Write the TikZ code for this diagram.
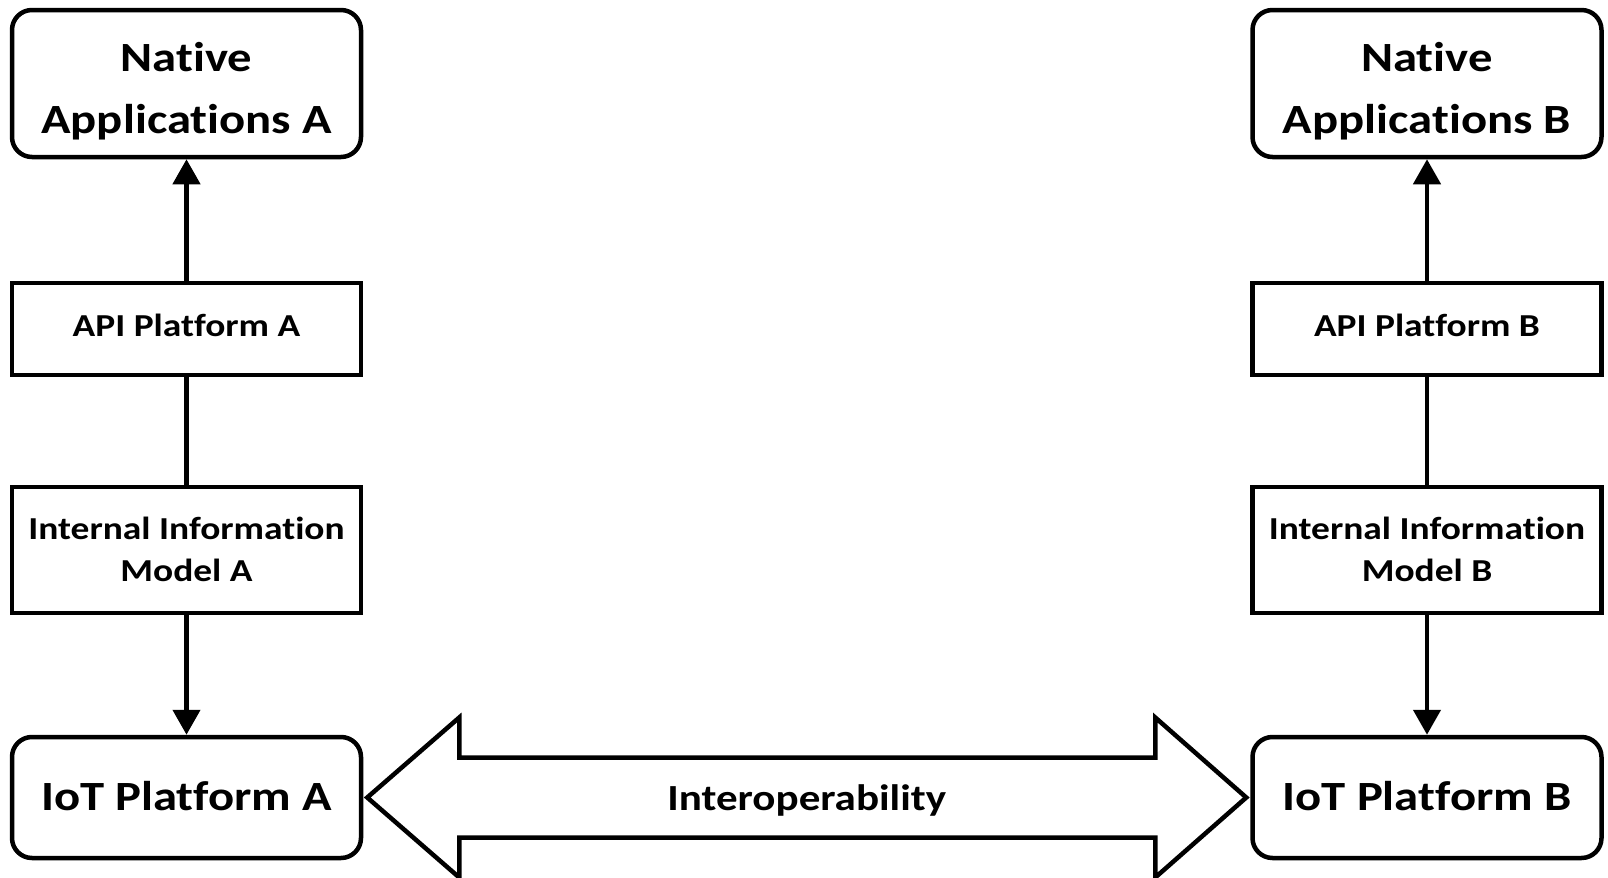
\documentclass[tikz,border=0pt]{standalone}
\usepackage{fontspec}
\setmainfont{Carlito}[FakeStretch=1.17,Ligatures=NoCommon]
\usetikzlibrary{arrows.meta,calc}

\begin{document}
\begin{tikzpicture}[x=0.5pt,y=-0.5pt,line width=2.25pt,
  box/.style={draw, inner sep=0pt, minimum width=174.5pt, align=center, text depth=0pt},
  roundbox/.style={box, rounded corners=10pt},
  toplabel/.style={font=\bfseries\fontsize{20.8}{30.85}\selectfont, text height=49.8pt},
  apilabel/.style={font=\bfseries\fontsize{16}{21.35}\selectfont, text height=7.7pt},
  modellabel/.style={font=\bfseries\fontsize{16}{21.35}\selectfont, text height=31.7pt},
  iotlabel/.style={font=\bfseries\fontsize{20.8}{26}\selectfont, text height=12.5pt},
  link/.style={-{Triangle[length=12.5pt,width=13.5pt]}},
  bigarrow/.style={draw, line join=miter}]

  \useasboundingbox (0,0) rectangle (1608,878);

  % platform A column
  \node[roundbox, toplabel, minimum height=73.5pt] (natA) at (186.5,83.5) {Native\\Applications A};
  \node[box, apilabel, minimum height=46pt] (apiA) at (186.5,329) {API Platform A};
  \node[box, modellabel, minimum height=63pt] (infA) at (186.5,550) {Internal Information\\Model A};
  \node[roundbox, iotlabel, minimum height=60.5pt] (iotA) at (186.5,797.5) {IoT Platform A};

  % platform B column
  \node[roundbox, toplabel, minimum height=73.5pt] (natB) at (1427,83.5) {Native\\Applications B};
  \node[box, apilabel, minimum height=46pt] (apiB) at (1427,329) {API Platform B};
  \node[box, modellabel, minimum height=63pt] (infB) at (1427,550) {Internal Information\\Model B};
  \node[roundbox, iotlabel, minimum height=60.5pt] (iotB) at (1427,797.5) {IoT Platform B};

  % vertical links
  \draw[link] (apiA) -- (natA);
  \draw (apiA) -- (infA);
  \draw[link] (infA) -- (iotA);
  \draw[link] (apiB) -- (natB);
  \draw (apiB) -- (infB);
  \draw[link] (infB) -- (iotB);

  % interoperability double arrow between the two platforms
  \coordinate (tl) at ($(iotA.east)+(4,0)$);
  \coordinate (tr) at ($(iotB.west)+(-4,0)$);
  \draw[bigarrow] (tl) -- ($(tl)+(92,-80)$) -- ($(tl)+(92,-40)$)
    -- ($(tr)+(-91,-40)$) -- ($(tr)+(-91,-80)$) -- (tr)
    -- ($(tr)+(-91,80)$) -- ($(tr)+(-91,40)$)
    -- ($(tl)+(92,40)$) -- ($(tl)+(92,80)$) -- cycle;
  \node[inner sep=0pt, text height=12.5pt, text depth=0pt,
        font=\bfseries\fontsize{18.4}{22}\selectfont] (interop) at ($(tl)!0.5!(tr)$) {Interoperability};
\end{tikzpicture}
\end{document}
